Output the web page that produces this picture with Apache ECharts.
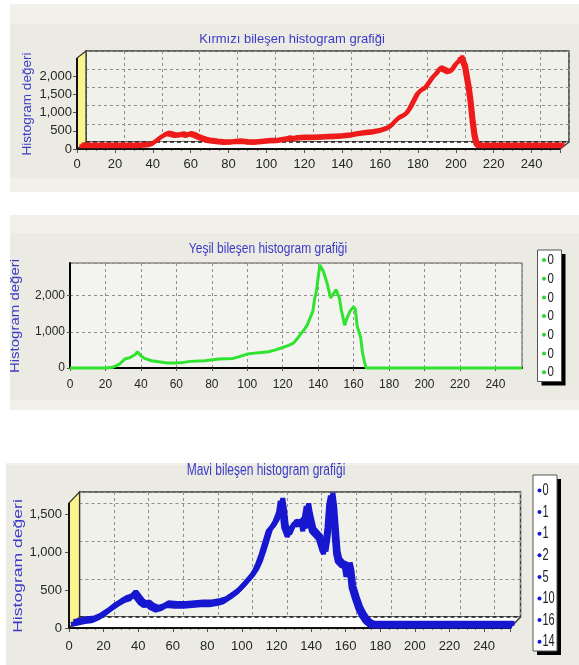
<!DOCTYPE html>
<html>
<head>
<meta charset="utf-8">
<script src="https://cdn.jsdelivr.net/npm/echarts@6/dist/echarts.min.js"></script>
<style>
  html, body { margin: 0; padding: 0; background: #ffffff; }
  #chart { width: 579px; height: 665px; }
</style>
</head>
<body>
<div id="chart"></div>
<script>
// ---------- histogram data (intensity level -> pixel count) ----------
const LEVEL_MAX = 255;

const redLevels = [0, 10, 20, 30, 36, 38, 40, 42, 44, 46, 48, 50, 52, 54, 56, 58, 60, 62, 64, 66, 68,
  72, 76, 80, 84, 88, 92, 96, 100, 104, 108, 110, 112, 114, 118, 122, 126, 130, 134, 138, 142, 146, 150,
  154, 158, 162, 164, 166, 168, 170, 172, 174, 176, 178, 180, 182, 184, 186, 188, 190,
  192, 194, 196, 198, 200, 201, 202, 203, 204, 205, 206, 207, 208, 209, 210, 220, 230, 240, 255];
const redCounts = [20, 20, 20, 20, 40, 70, 150, 230, 300, 350, 330, 300, 310, 330, 300, 340, 310, 260, 220, 180, 160,
  130, 110, 120, 140, 120, 110, 130, 150, 160, 190, 220, 200, 230, 240, 240, 250, 260, 270, 280, 300, 340, 370,
  390, 430, 500, 560, 680, 780, 830, 900, 1050, 1250, 1450, 1550, 1600, 1750, 1900, 2000, 2150,
  2100, 2050, 2080, 2250, 2350, 2450, 2400, 2200, 1900, 1600, 1200, 700, 300, 80, 20, 20, 20, 20, 20];

const greenLevels = [0, 10, 20, 24, 28, 31, 34, 37, 38, 40, 42, 46, 50, 55, 60, 64, 68, 76, 84, 92,
  96, 100, 104, 108, 112, 116, 120, 123, 126, 128, 130, 132, 134, 136, 137, 138, 139, 140, 141, 142,
  143, 145, 147, 149, 150, 152, 153, 155, 156, 158, 160, 161, 162, 164, 165, 166, 167, 180, 200, 230, 255];
const greenCounts = [0, 0, 0, 20, 110, 250, 290, 380, 450, 340, 265, 200, 175, 137, 137, 155, 183, 200, 247, 265,
  320, 384, 411, 430, 447, 500, 566, 620, 685, 800, 931, 1050, 1205, 1450, 1570, 1900, 2120, 2500, 2850, 2750,
  2667, 2347, 1936, 2073, 2164, 1936, 1616, 1178, 1342, 1570, 1690, 1616, 1160, 840, 430, 200, 0, 0, 0, 0, 0];

const blueLevels = [0, 4, 8, 12, 16, 20, 24, 28, 31, 34, 36, 38, 40, 42, 44, 46, 49, 52, 55, 60,
  65, 70, 75, 80, 85, 88, 92, 96, 99, 102, 104, 106, 108, 110, 112, 114, 116, 118, 120, 121,
  122, 123, 125, 127, 129, 131, 133, 134, 135, 136, 137, 139, 141, 143, 145, 146, 147, 148, 149, 150,
  151, 152, 153, 154, 156, 158, 159, 160, 161, 162, 164, 166, 168, 170, 172, 174, 200, 230, 255];
const blueCounts = [20, 40, 60, 70, 110, 170, 240, 300, 340, 360, 420, 360, 300, 270, 280, 240, 210, 230, 270, 260,
  260, 270, 280, 280, 300, 320, 380, 450, 520, 600, 650, 720, 820, 950, 1100, 1250, 1300, 1380, 1500, 1650,
  1500, 1300, 1180, 1280, 1350, 1330, 1380, 1250, 1450, 1580, 1450, 1250, 1200, 1150, 1000, 950, 1100, 1300, 1600, 1720,
  1550, 1250, 950, 850, 800, 780, 650, 800, 700, 500, 350, 220, 130, 60, 20, 0, 0, 0, 0];

// legend entries shown in the side boxes
const greenLegend = ['0', '0', '0', '0', '0', '0', '0'];
const blueLegend = ['0', '1', '1', '2', '5', '10', '16', '14'];

// texts
const redTitle = 'Kırmızı bileşen histogram grafiği';
const greenTitle = 'Yeşil bileşen histogram grafiği';
const blueTitle = 'Mavi bileşen histogram grafiği';
const yName = 'Histogram değeri';

// ---------- styling ----------
const SANS = "'Liberation Sans', Arial, sans-serif";
const TEXT_BLUE = '#3b3bc8';
const LABEL = '#262626';
const PANEL = '#ebeae3';
const PANEL_LIGHT = '#f1f0eb';
const WALL = '#f1f1ec';
const GRIDLINE = '#8e8e8e';
const fmt = v => v.toLocaleString('en-US');

const grid = [], xAxis = [], yAxis = [], series = [], elements = [];

function pairs(levels, counts) { return levels.map((l, i) => [l, counts[i]]); }

function addGrid(rect, yMax, yInterval, xOpt, yOpt, gridOpt) {
  const gi = grid.length;
  grid.push(Object.assign({ left: rect.left, top: rect.top, width: rect.width, height: rect.height }, gridOpt || {}));
  xAxis.push(Object.assign({ type: 'value', gridIndex: gi, min: 0, max: LEVEL_MAX, interval: 20 }, xOpt));
  yAxis.push(Object.assign({ type: 'value', gridIndex: gi, min: 0, max: yMax, interval: yInterval }, yOpt));
  return gi;
}

function text(x, y, str, font, fill, extra, align) {
  const a = align || 'center';
  elements.push(Object.assign({
    type: 'text', x: x, y: y, z: 6, silent: true,
    style: { text: str, font: font, fill: fill, align: a, verticalAlign: 'middle',
             textAlign: a, textVerticalAlign: 'middle' }
  }, extra || {}));
}

function panel(x, y, w, h, inner) {
  elements.push({ type: 'rect', z: -10, silent: true, shape: { x: x, y: y, width: w, height: h }, style: { fill: PANEL_LIGHT } });
  elements.push({ type: 'rect', z: -9, silent: true, shape: inner, style: { fill: PANEL } });
}

// a histogram drawn with a slanted back wall, floor and yellow side wall
function chart3D(cfg) {
  const f = cfg.front, d = cfg.depth;
  const back = { left: f.left + d[0], top: f.top + d[1], width: f.width, height: f.height };
  const mid = { left: f.left + cfg.lineShift[0], top: f.top + cfg.lineShift[1], width: f.width, height: f.height };

  // back wall with dashed grid
  addGrid(back, cfg.yMax, cfg.yInterval,
    { axisLabel: { show: false }, axisLine: { show: false }, axisTick: { show: false },
      splitLine: { show: true, lineStyle: { color: GRIDLINE, width: 1, type: [3, 3] } } },
    { axisLabel: { show: false }, axisLine: { show: false }, axisTick: { show: false },
      splitLine: { show: true, lineStyle: { color: GRIDLINE, width: 1, type: [3, 3] } } },
    { show: true, backgroundColor: WALL, borderColor: '#3a3a3a', borderWidth: 1.5 });

  // front plane carrying the scales
  addGrid(f, cfg.yMax, cfg.yInterval,
    { axisLabel: { margin: cfg.xMargin, color: LABEL, fontSize: cfg.labelSize, fontFamily: SANS, showMaxLabel: false },
      axisLine: { show: false },
      axisTick: { show: true, length: 4, lineStyle: { color: '#555' } },
      minorTick: { show: true, splitNumber: 4, length: 2, lineStyle: { color: '#777' } },
      splitLine: { show: false } },
    { axisLabel: { margin: cfg.yMargin, color: LABEL, fontSize: cfg.labelSize, fontFamily: SANS, formatter: fmt, showMaxLabel: false },
      axisLine: { show: false },
      axisTick: { show: true, length: 4, lineStyle: { color: '#555' } },
      splitLine: { show: false } });

  // plane of the ribbon line
  const gi = addGrid(mid, cfg.yMax, cfg.yInterval, { show: false }, { show: false });
  series.push({
    type: 'line', xAxisIndex: gi, yAxisIndex: gi, data: pairs(cfg.levels, cfg.counts),
    symbol: 'none', clip: false, silent: true, z: 3,
    lineStyle: { color: cfg.color, width: cfg.lineWidth, shadowColor: cfg.color,
                 shadowOffsetX: cfg.shadow[0], shadowOffsetY: cfg.shadow[1], shadowBlur: 0 }
  });

  const fb = f.top + f.height, bb = back.top + back.height;
  const fr = f.left + f.width, br = back.left + back.width;
  elements.push({ type: 'polygon', z: 1, silent: true,
    shape: { points: [[f.left, fb], [fr, fb], [br, bb], [back.left, bb]] }, style: { fill: '#ffffff' } });
  elements.push({ type: 'line', z: 1, silent: true, shape: { x1: back.left, y1: bb, x2: br, y2: bb },
    style: { stroke: '#1a1a1a', lineWidth: 1.5, lineDash: [4, 3] } });
  elements.push({ type: 'line', z: 1, silent: true, shape: { x1: f.left, y1: fb, x2: fr, y2: fb },
    style: { stroke: '#111', lineWidth: 2 } });
  elements.push({ type: 'line', z: 1, silent: true, shape: { x1: fr, y1: fb, x2: br, y2: bb },
    style: { stroke: '#333', lineWidth: 1.5 } });
  elements.push({ type: 'polygon', z: 1, silent: true,
    shape: { points: [[f.left, fb], [f.left, f.top], [back.left, back.top], [back.left, bb]] },
    style: { fill: '#fbf38c', stroke: '#333', lineWidth: 1.2 } });
  elements.push({ type: 'line', z: 1, silent: true, shape: { x1: f.left, y1: f.top, x2: f.left, y2: fb },
    style: { stroke: '#111', lineWidth: 2 } });
}

// a flat histogram with plain frame
function chart2D(cfg) {
  const gi = addGrid(cfg.rect, cfg.yMax, cfg.yInterval,
    { axisLabel: { margin: cfg.xMargin, color: LABEL, fontSize: cfg.labelSize, fontFamily: SANS, showMaxLabel: false },
      axisLine: { show: true, lineStyle: { color: '#000', width: 2 } },
      axisTick: { show: true, length: 3, lineStyle: { color: '#555' } },
      splitLine: { show: true, lineStyle: { color: GRIDLINE, width: 1, type: [3, 3] } } },
    { axisLabel: { margin: cfg.yMargin, color: LABEL, fontSize: cfg.labelSize, fontFamily: SANS, formatter: fmt, showMaxLabel: false },
      axisLine: { show: true, lineStyle: { color: '#000', width: 2 } },
      axisTick: { show: true, length: 3, lineStyle: { color: '#555' } },
      splitLine: { show: true, lineStyle: { color: GRIDLINE, width: 1, type: [3, 3] } } },
    { show: true, backgroundColor: '#f3f3ef', borderColor: '#5a5a5a', borderWidth: 1 });
  series.push({
    type: 'line', xAxisIndex: gi, yAxisIndex: gi, data: pairs(cfg.levels, cfg.counts),
    symbol: 'none', clip: false, silent: true, z: 3,
    lineStyle: { color: cfg.color, width: cfg.lineWidth }
  });
}

function legendBox(box, labels, color, fontSize, stretch, firstY, step, dotX, textX) {
  elements.push({ type: 'rect', z: 4, silent: true,
    shape: { x: box.x + 4, y: box.y + 4, width: box.width, height: box.height }, style: { fill: '#000' } });
  elements.push({ type: 'rect', z: 5, silent: true, shape: box,
    style: { fill: '#ffffff', stroke: '#555', lineWidth: 1 } });
  labels.forEach((lab, i) => {
    const y = firstY + i * step;
    elements.push({ type: 'circle', z: 6, silent: true, shape: { cx: dotX, cy: y, r: 2 }, style: { fill: color } });
    text(textX, y, lab, fontSize + 'px ' + SANS, '#222', { scaleY: stretch }, 'left');
  });
}

// ---------- panels ----------
panel(10, 4, 569, 188, { x: 10, y: 24, width: 569, height: 154 });
panel(10, 215, 569, 195, { x: 10, y: 233, width: 569, height: 167 });
panel(6, 463, 573, 202, { x: 6, y: 465, width: 573, height: 200 });

// red channel
chart3D({
  front: { left: 77, top: 58, width: 483, height: 91 }, depth: [9, -7],
  lineShift: [2.5, -2], shadow: [2, -1.75], lineWidth: 4,
  yMax: 2500, yInterval: 500, levels: redLevels, counts: redCounts, color: '#ee1b1b',
  labelSize: 13, xMargin: 9, yMargin: 5
});
text(292, 39, redTitle, '13px ' + SANS, TEXT_BLUE);
text(27, 104, yName, '13.5px ' + SANS, TEXT_BLUE, { rotation: Math.PI / 2 });

// green channel
chart2D({
  rect: { left: 70, top: 263, width: 452, height: 105 },
  yMax: 2900, yInterval: 1000, levels: greenLevels, counts: greenCounts, color: '#2fe42f', lineWidth: 3,
  labelSize: 12, xMargin: 11, yMargin: 5
});
text(268, 249, greenTitle, '12px ' + SANS, TEXT_BLUE, { scaleY: 1.2 });
text(16, 316, yName, '12.5px ' + SANS, TEXT_BLUE, { rotation: Math.PI / 2, scaleX: 1.2 });
legendBox({ x: 537.5, y: 250, width: 24, height: 131.5 }, greenLegend, '#2fd02f', 11.5, 1.35, 260, 18.7, 544, 547.5);

// blue channel
chart3D({
  front: { left: 69, top: 503, width: 441, height: 125 }, depth: [10.5, -11],
  lineShift: [2, -2], shadow: [2.5, -2.75], lineWidth: 5,
  yMax: 1650, yInterval: 500, levels: blueLevels, counts: blueCounts, color: '#1717d0',
  labelSize: 13, xMargin: 12, yMargin: 7
});
text(266, 471, blueTitle, '12px ' + SANS, TEXT_BLUE, { scaleY: 1.3 });
text(18, 566, yName, '13px ' + SANS, TEXT_BLUE, { rotation: Math.PI / 2, scaleX: 1.35 });
legendBox({ x: 533, y: 475, width: 24, height: 176 }, blueLegend, '#1717d0', 11, 1.55, 490.5, 21.6, 539.5, 542.5);

const chart = echarts.init(document.getElementById('chart'), null, { renderer: 'canvas' });
chart.setOption({
  animation: false,
  backgroundColor: '#ffffff',
  grid: grid, xAxis: xAxis, yAxis: yAxis, series: series,
  graphic: { elements: elements }
});
</script>
</body>
</html>
